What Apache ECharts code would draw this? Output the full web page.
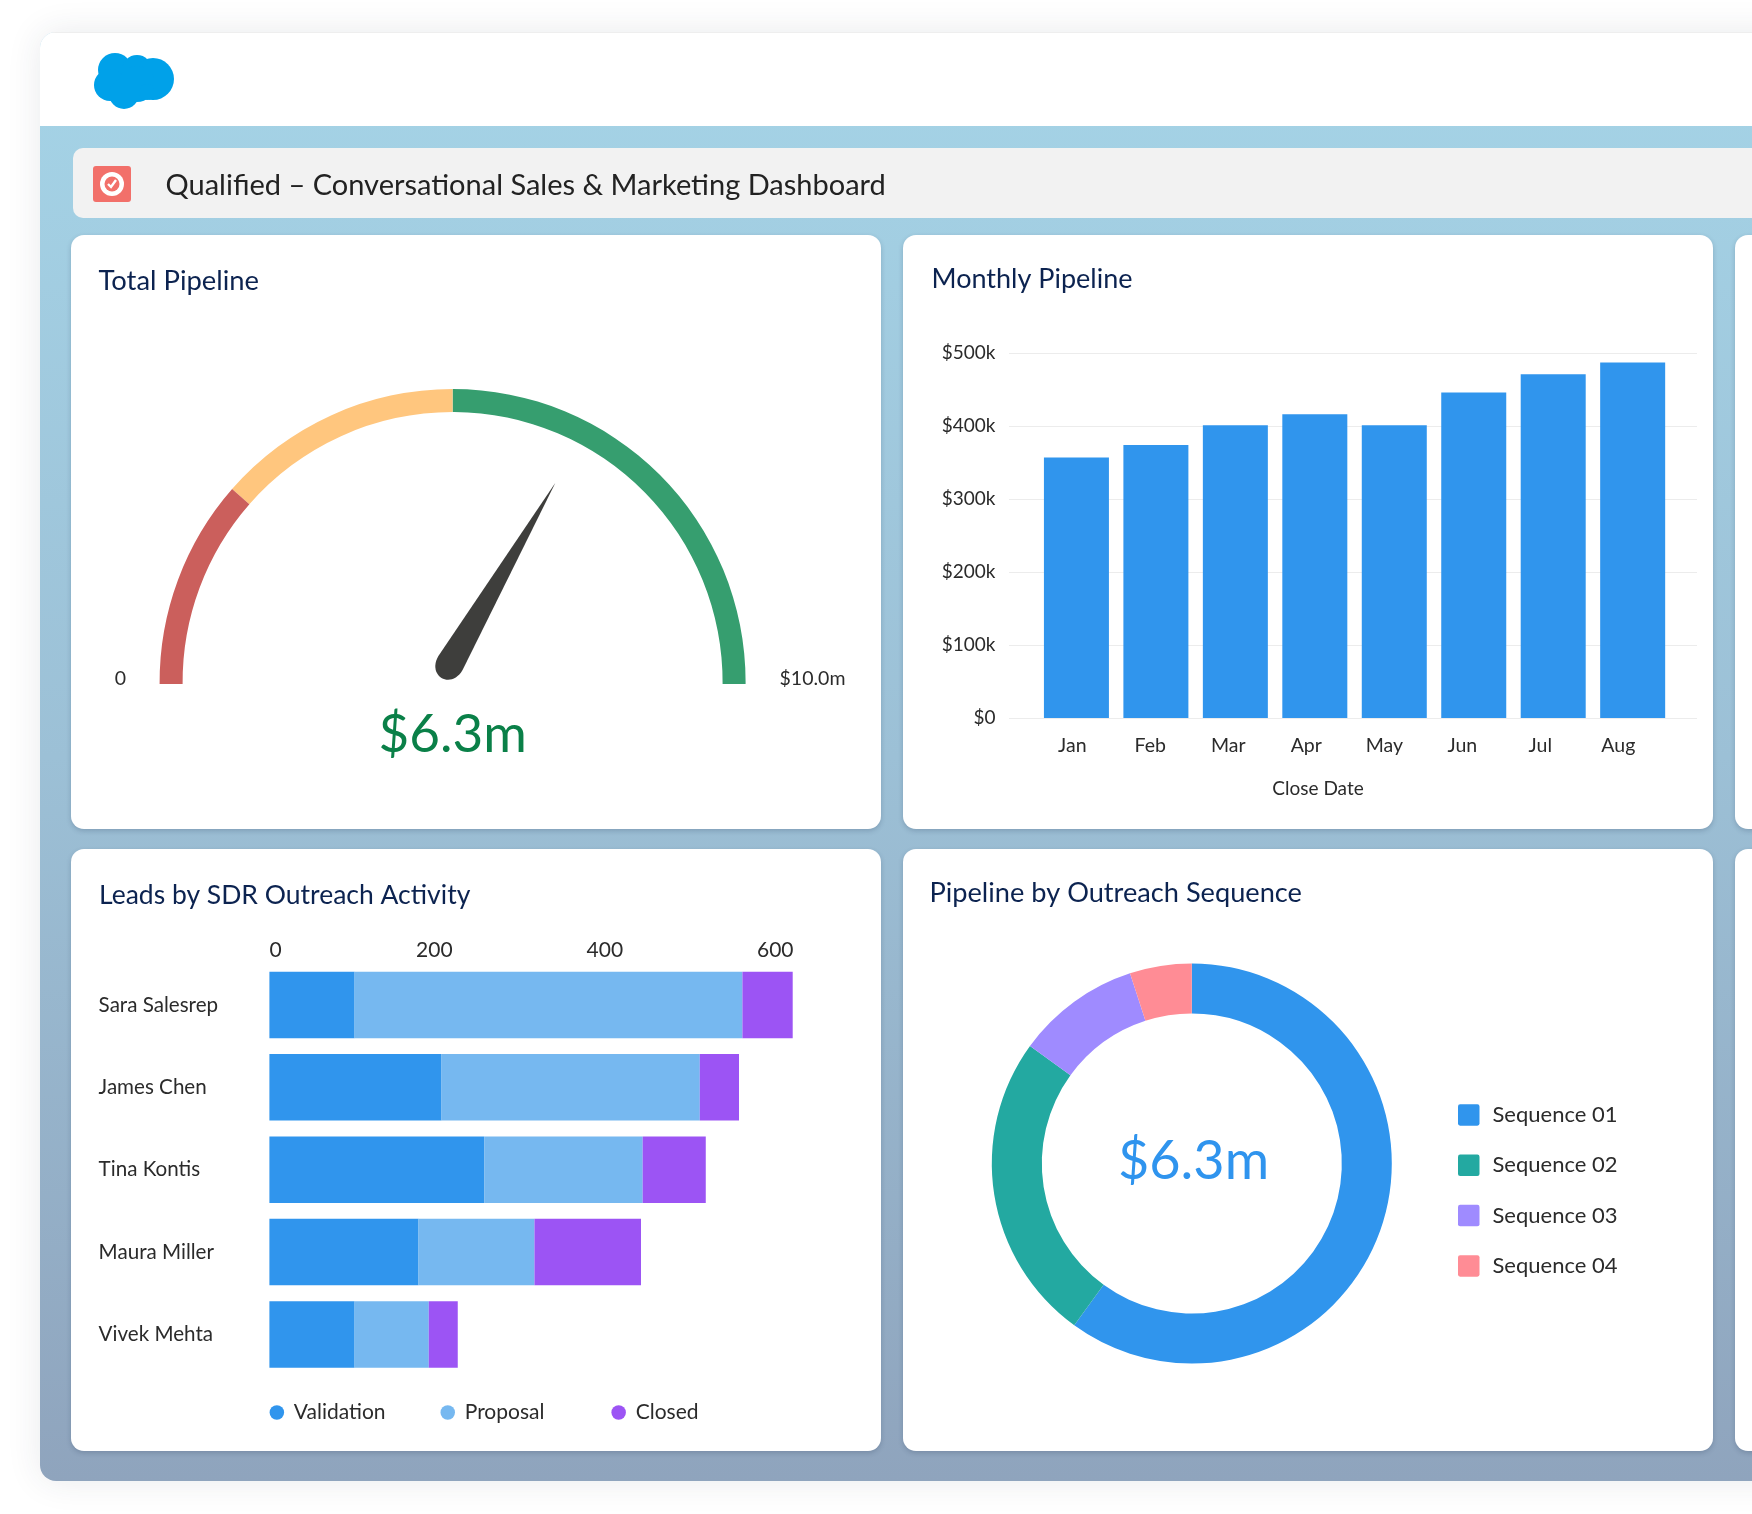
<!DOCTYPE html>
<html><head><meta charset="utf-8">
<style>
html,body{margin:0;padding:0;width:1752px;height:1514px;overflow:hidden;background:#fff}
.abs{position:absolute}
#shell{left:40px;top:32px;width:1800px;height:1449px;border-radius:16px;background:linear-gradient(180deg,#a5d4e7 0%,#9cc0d6 50%,#8fa4bd 100%);box-shadow:0 0 34px rgba(40,50,70,.10);overflow:hidden}
#head{left:0;top:0;width:100%;height:94px;background:#fff;border-top:1px solid #eee;box-sizing:border-box}
.card{background:#fff;border-radius:13px;box-shadow:0 2px 5px rgba(30,50,80,.22)}
#bar{left:73px;top:148px;width:1800px;height:70px;background:#f2f2f2;border-radius:10px}
#chart{left:0;top:0;width:1752px;height:1514px}
</style></head><body>
<div id="shell" class="abs"><div id="head" class="abs"></div></div>
<svg class="abs" style="left:0;top:0" width="200" height="220">
<g fill="#00a1e9"><circle cx="115" cy="70" r="17"/><circle cx="137" cy="70" r="15"/><circle cx="153" cy="79" r="21"/><circle cx="110" cy="85" r="16"/><circle cx="124" cy="94" r="15"/><circle cx="137" cy="84" r="18"/><circle cx="147" cy="92" r="8"/></g>
</svg>
<div id="bar" class="abs"></div>
<div class="abs card" style="left:71px;top:235px;width:810px;height:594px"></div>
<div class="abs card" style="left:903px;top:235px;width:810px;height:594px"></div>
<div class="abs card" style="left:1735px;top:235px;width:810px;height:594px"></div>
<div class="abs card" style="left:71px;top:849px;width:810px;height:602px"></div>
<div class="abs card" style="left:903px;top:849px;width:810px;height:602px"></div>
<div class="abs card" style="left:1735px;top:849px;width:810px;height:602px"></div>
<svg class="abs" style="left:93px;top:166px" width="38" height="36" viewBox="0 0 38 36">
<rect width="38" height="36" rx="3" fill="#f2706a"/><circle cx="19" cy="18" r="12" fill="#fff"/><circle cx="19" cy="18" r="7.5" fill="#f2706a"/><path d="M15 18l3 3 5-7" stroke="#fff" stroke-width="2.4" fill="none"/>
</svg>
<div id="chart" class="abs"></div>
<script src="https://cdn.jsdelivr.net/npm/echarts@6/dist/echarts.min.js"></script>
<script>
// ---- data ----
const dashboardTitle = 'Qualified – Conversational Sales & Marketing Dashboard';
const gaugeLabel = '$6.3m';
const needleReading = 6.67;
const gaugeMax = 10;
const gaugeBands = [0.23, 0.5, 1];
const gaugeEnds = ['0', '$10.0m'];
const months = ['Jan','Feb','Mar','Apr','May','Jun','Jul','Aug'];
const monthlyPipeline = [357000,374000,401000,416000,401000,446000,471000,487000];
const reps = ['Sara Salesrep','James Chen','Tina Kontis','Maura Miller','Vivek Mehta'];
const validation = [100,202,252,175,100];
const proposal = [455,303,186,136,87];
const closed = [59,46,74,125,34];
const sequences = ['Sequence 01','Sequence 02','Sequence 03','Sequence 04'];
const sequenceShare = [60,25,10,5];
const donutLabel = '$6.3m';

const FONT = 'Lato, "Noto Sans", sans-serif';
const INK = '#2b2b2b', NAVY = '#0c2350';
const BLUE = '#3095ed', SKY = '#76b8f0', VIOLET = '#9c54f4';
const seqColors = ['#3095ed','#23a9a1','#9f8bff','#ff8c95'];
const ttl = (text,left,top,size,color,extra) => Object.assign({
  text, left, top, textVerticalAlign:'middle', padding:0,
  textStyle:{fontFamily:FONT,fontSize:size,color,fontWeight:400}}, extra||{});
const dotLegend = (name,left) => ({left,top:1402,padding:0,itemWidth:24,itemHeight:14.5,icon:'circle',selectedMode:false,
  data:[name],textStyle:{fontFamily:FONT,fontSize:21,color:INK}});

const chart = echarts.init(document.getElementById('chart'), null, {renderer:'canvas', width:1752, height:1514});
const yTop = 353, yH = 365;
chart.setOption({
  animation:false,
  title:[
    ttl(dashboardTitle,165.5,185.5,29,'#222'),
    ttl('Total Pipeline',98.5,281,27.4,NAVY),
    ttl('Monthly Pipeline',931.5,279,27,NAVY),
    ttl('Leads by SDR Outreach Activity',99,895,26.5,NAVY),
    ttl('Pipeline by Outreach Sequence',929.5,893,27.2,NAVY),
    ttl('Close Date',1318,788.5,19,INK,{textAlign:'center'}),
    ttl(gaugeEnds[0],120.5,678.5,19.5,INK,{textAlign:'center'}),
    ttl(gaugeEnds[1],812.5,678.5,19.5,INK,{textAlign:'center'}),
    ttl(donutLabel,1193.5,1162,54,'#2f94ee',{textAlign:'center'})
  ],
  grid:[
    {left:1009,width:688,top:yTop,height:yH,show:false},
    {left:1036.7,width:635.7,top:yTop,height:yH,show:false},
    {left:1033.3,width:624,top:yTop,height:yH,show:false},
    {left:269.4,width:523.3,top:963.7,height:412,show:false}
  ],
  xAxis:[
    {gridIndex:0,type:'value',min:0,max:1,show:false},
    {gridIndex:1,type:'category',data:months,axisLine:{show:false},axisTick:{show:false},axisLabel:{show:false}},
    {gridIndex:2,type:'category',data:months,axisLine:{show:false},axisTick:{show:false},
      axisLabel:{fontFamily:FONT,fontSize:19.5,color:INK,margin:18}},
    {gridIndex:3,type:'value',position:'top',min:0,max:614,interval:200,splitLine:{show:false},
      axisLine:{show:false},axisTick:{show:false},
      axisLabel:{fontFamily:FONT,fontSize:21,color:INK,margin:3,alignMinLabel:'left',showMaxLabel:false,padding:[0,11,0,0]}}
  ],
  yAxis:[
    {gridIndex:0,type:'value',min:0,max:500000,interval:100000,axisLine:{show:false},axisTick:{show:false},
      splitLine:{lineStyle:{color:'#ececec',width:1}},
      axisLabel:{fontFamily:FONT,fontSize:19,color:INK,margin:13.5,
        formatter:v=> v===0?'$0':'$'+(v/1000)+'k'}},
    {gridIndex:1,type:'value',min:0,max:500000,show:false},
    {gridIndex:2,type:'value',min:0,max:500000,show:false},
    {gridIndex:3,type:'category',inverse:true,data:reps,axisLine:{show:false},axisTick:{show:false},
      axisLabel:{fontFamily:FONT,fontSize:20.6,color:INK,align:'left',margin:170.8}}
  ],
  legend:[
    dotLegend('Validation',269.6),
    dotLegend('Proposal',440.5),
    dotLegend('Closed',611.4),
    {left:1458,top:1104,orient:'vertical',padding:0,itemGap:28.3,itemWidth:21.5,itemHeight:21.5,
      icon:'path://M2 0H18Q20 0 20 2V18Q20 20 18 20H2Q0 20 0 18V2Q0 0 2 0Z',selectedMode:false,
      data:sequences,
      textStyle:{fontFamily:FONT,fontSize:22,color:INK,padding:[0,0,0,8]}}
  ],
  series:[
    {type:'gauge',center:[452.6,682],radius:293,startAngle:180.4,endAngle:-0.4,min:0,max:gaugeMax,splitNumber:1,
      axisLine:{roundCap:false,lineStyle:{width:23,color:[[gaugeBands[0],'#cb5f5c'],[gaugeBands[1],'#ffc67e'],[gaugeBands[2],'#369e6f']]}},
      axisTick:{show:false},splitLine:{show:false},axisLabel:{show:false},title:{show:false},anchor:{show:false},
      pointer:{icon:'path://M50 0 L100 900 C100 1000 0 1000 0 900 Z',length:226,width:28,offsetCenter:[-11.4,2],
        itemStyle:{color:'#3e3e3c'}},
      detail:{formatter:()=>gaugeLabel,offsetCenter:[0,53],fontFamily:FONT,fontSize:53,fontWeight:400,color:'#0a8048'},
      data:[{value:needleReading}]},
    {type:'bar',name:'Monthly Pipeline',xAxisIndex:1,yAxisIndex:1,data:monthlyPipeline,barWidth:65,itemStyle:{color:BLUE}},
    {type:'bar',name:'Validation',xAxisIndex:3,yAxisIndex:3,stack:'a',data:validation,barWidth:66.5,itemStyle:{color:BLUE}},
    {type:'bar',name:'Proposal',xAxisIndex:3,yAxisIndex:3,stack:'a',data:proposal,barWidth:66.5,itemStyle:{color:SKY}},
    {type:'bar',name:'Closed',xAxisIndex:3,yAxisIndex:3,stack:'a',data:closed,barWidth:66.5,itemStyle:{color:VIOLET}},
    {type:'pie',center:[1191.8,1163.5],radius:[150,200],startAngle:90,clockwise:true,label:{show:false},labelLine:{show:false},silent:true,
      data:sequences.map((n,i)=>({name:n,value:sequenceShare[i],itemStyle:{color:seqColors[i]}}))}
  ]
});
</script></body></html>
